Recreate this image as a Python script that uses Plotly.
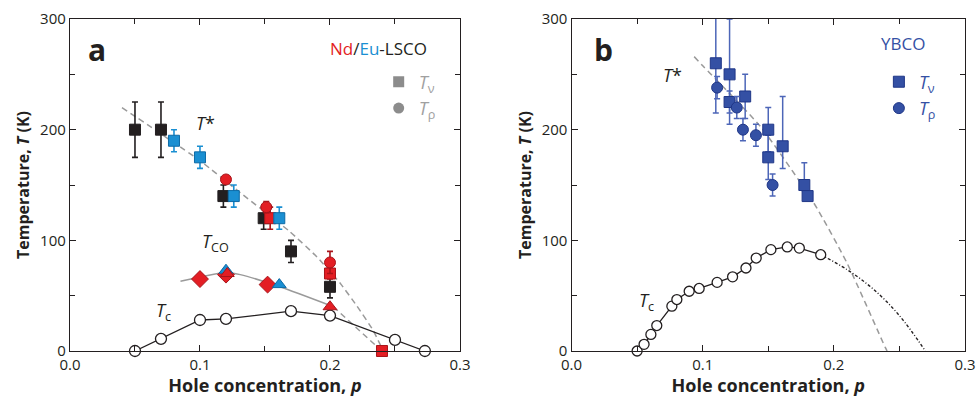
import plotly.graph_objects as go

# ---------------- Panel a : Nd/Eu-LSCO ----------------
a_black_sq_p = [0.05, 0.07, 0.118, 0.149, 0.17, 0.20]
a_black_sq_T = [200, 200, 140, 120, 90, 58]
a_black_sq_err = [25, 25, 10, 10, 10, 10]

a_blue_sq_p = [0.08, 0.10, 0.126, 0.161]
a_blue_sq_T = [190, 175, 140, 120]
a_blue_sq_err = [10, 10, 10, 10]

a_red_sq_p = [0.154, 0.20, 0.24]
a_red_sq_T = [120, 70, 0]
a_red_sq_err = [10, 5, 0]

a_red_ci_p = [0.12, 0.151, 0.20]
a_red_ci_T = [155, 130, 80]
a_red_ci_err = [0, 5, 10]

a_red_dia_p = [0.10, 0.12, 0.152]
a_red_dia_T = [65, 69, 60]

a_red_tri_p = [0.121, 0.20]
a_red_tri_T = [70, 40]

a_blue_tri_p = [0.12, 0.161]
a_blue_tri_T = [73, 60]

a_tc_p = [0.05, 0.07, 0.10, 0.12, 0.17, 0.20, 0.25, 0.273]
a_tc_T = [0, 11, 28, 29, 36, 32, 10, 0]

a_tstar_p = [0.04, 0.10, 0.131, 0.169, 0.19, 0.208, 0.2205, 0.233, 0.241]
a_tstar_T = [220, 172, 143, 108, 85, 61, 41, 19, 0]

a_tco_p = [0.085, 0.12, 0.131, 0.1615, 0.2026]
a_tco_T = [63, 71, 69, 58, 40]
a_tco_ext_p = [0.2026, 0.238]
a_tco_ext_T = [40, 2]

# ---------------- Panel b : YBCO ----------------
b_sq_p = [0.110, 0.1205, 0.1205, 0.1324, 0.150, 0.150, 0.161, 0.1775, 0.180]
b_sq_T = [260, 250, 225, 230, 200, 175, 185, 150, 140]
b_sq_err_plus = [45, 50, 10, 20, 20, 20, 45, 20, 0]
b_sq_err_minus = [45, 45, 10, 20, 20, 20, 20, 5, 0]

b_ci_p = [0.111, 0.126, 0.1307, 0.1406, 0.1533]
b_ci_T = [238, 220, 200, 195, 150]
b_ci_err = [10, 10, 10, 10, 10]

b_tc_p = [0.050, 0.0553, 0.0605, 0.065, 0.0765, 0.0803, 0.0897, 0.0973,
          0.1110, 0.1228, 0.1330, 0.1408, 0.1520, 0.1645, 0.1737, 0.1900]
b_tc_T = [0, 6, 15, 23, 40.5, 46.5, 54, 56.5, 62, 67, 75, 84, 91.6, 94, 93, 87]

b_tc_ext_p = [0.19, 0.21, 0.23, 0.25, 0.2698]
b_tc_ext_T = [87, 73.6, 56, 32, 0]

b_tstar_p = [0.0935, 0.1006, 0.1439, 0.1846, 0.21, 0.2393, 0.2406]
b_tstar_T = [266, 257, 203, 134, 79.6, 3, 0]

RED = "#e31e24"
RED_E = "#a8141a"
BLUE = "#1a8fd2"
BLUE_E = "#0d6aa6"
BLACK = "#231f20"
YB = "#3450a4"
YB_E = "#1f3687"
YB_ERR = "#4d66b8"
GRAY = "#8c8c8c"
FONT = "Open Sans"

fig = go.Figure()


def add(tr):
    fig.add_trace(tr)


# ---- panel a lines
add(go.Scatter(x=a_tstar_p, y=a_tstar_T, mode="lines", xaxis="x", yaxis="y",
               line=dict(color="#9a9a9a", width=1.5, dash="6px,4px", shape="spline", smoothing=0.4),
               showlegend=False, hoverinfo="skip"))
add(go.Scatter(x=a_tco_p, y=a_tco_T, mode="lines", xaxis="x", yaxis="y",
               line=dict(color="#9a9a9a", width=1.5, shape="spline", smoothing=0.6),
               showlegend=False, hoverinfo="skip"))
add(go.Scatter(x=a_tco_ext_p, y=a_tco_ext_T, mode="lines", xaxis="x", yaxis="y",
               line=dict(color="#9a9a9a", width=1.5, dash="6px,4px"),
               showlegend=False, hoverinfo="skip"))
add(go.Scatter(x=a_tc_p, y=a_tc_T, mode="lines+markers", xaxis="x", yaxis="y",
               line=dict(color=BLACK, width=1.3),
               marker=dict(symbol="circle", size=11, color="white",
                           line=dict(color=BLACK, width=1.3)),
               showlegend=False, cliponaxis=False))

# ---- panel a markers
add(go.Scatter(x=a_black_sq_p, y=a_black_sq_T, mode="markers", xaxis="x", yaxis="y",
               marker=dict(symbol="square", size=11, color=BLACK, line=dict(color=BLACK, width=1)),
               error_y=dict(type="data", array=a_black_sq_err, color=BLACK, thickness=1.6, width=3),
               showlegend=False))
add(go.Scatter(x=a_red_sq_p, y=a_red_sq_T, mode="markers", xaxis="x", yaxis="y",
               marker=dict(symbol="square", size=11, color=RED, line=dict(color=RED_E, width=1)),
               error_y=dict(type="data", array=a_red_sq_err, color=RED_E, thickness=1.6, width=3),
               showlegend=False, cliponaxis=False))
add(go.Scatter(x=a_blue_sq_p, y=a_blue_sq_T, mode="markers", xaxis="x", yaxis="y",
               marker=dict(symbol="square", size=11, color=BLUE, line=dict(color=BLUE_E, width=1)),
               error_y=dict(type="data", array=a_blue_sq_err, color=BLUE, thickness=1.6, width=3),
               showlegend=False))
add(go.Scatter(x=a_red_ci_p, y=a_red_ci_T, mode="markers", xaxis="x", yaxis="y",
               marker=dict(symbol="circle", size=11, color=RED, line=dict(color=RED_E, width=1)),
               error_y=dict(type="data", array=a_red_ci_err, color=RED_E, thickness=1.6, width=3),
               showlegend=False))
add(go.Scatter(x=a_red_dia_p, y=a_red_dia_T, mode="markers", xaxis="x", yaxis="y",
               marker=dict(symbol="diamond", size=13, color=RED, line=dict(color=RED_E, width=1)),
               showlegend=False))
add(go.Scatter(x=a_blue_tri_p, y=a_blue_tri_T, mode="markers", xaxis="x", yaxis="y",
               marker=dict(symbol="triangle-up", size=12, color=BLUE, line=dict(color=BLUE_E, width=1)),
               showlegend=False))
add(go.Scatter(x=a_red_tri_p, y=a_red_tri_T, mode="markers", xaxis="x", yaxis="y",
               marker=dict(symbol="triangle-up", size=12, color=RED, line=dict(color=RED_E, width=1)),
               showlegend=False))

# ---- panel a legend entries
add(go.Scatter(x=[None], y=[None], mode="markers", xaxis="x", yaxis="y",
               marker=dict(symbol="square", size=11, color=GRAY),
               name="<i>T</i><sub>ν</sub>", legend="legend"))
add(go.Scatter(x=[None], y=[None], mode="markers", xaxis="x", yaxis="y",
               marker=dict(symbol="circle", size=11, color=GRAY),
               name="<i>T</i><sub>ρ</sub>", legend="legend"))

# ---- panel b lines
add(go.Scatter(x=b_tstar_p, y=b_tstar_T, mode="lines", xaxis="x2", yaxis="y2",
               line=dict(color="#9a9a9a", width=1.5, dash="6px,4px", shape="spline", smoothing=0.6),
               showlegend=False, hoverinfo="skip"))
add(go.Scatter(x=b_tc_ext_p, y=b_tc_ext_T, mode="lines", xaxis="x2", yaxis="y2",
               line=dict(color=BLACK, width=1.4, dash="3px,2px,1px,2px", shape="spline"),
               showlegend=False, hoverinfo="skip"))
add(go.Scatter(x=b_tc_p, y=b_tc_T, mode="lines+markers", xaxis="x2", yaxis="y2",
               line=dict(color=BLACK, width=1.3),
               marker=dict(symbol="circle", size=10, color="white",
                           line=dict(color=BLACK, width=1.3)),
               showlegend=False, cliponaxis=False))

# ---- panel b markers
add(go.Scatter(x=b_sq_p, y=b_sq_T, mode="markers", xaxis="x2", yaxis="y2",
               marker=dict(symbol="square", size=11, color=YB, line=dict(color=YB_E, width=1)),
               error_y=dict(type="data", symmetric=False, array=b_sq_err_plus,
                            arrayminus=b_sq_err_minus, color=YB_ERR, thickness=1.5, width=3),
               showlegend=False))
add(go.Scatter(x=b_ci_p, y=b_ci_T, mode="markers", xaxis="x2", yaxis="y2",
               marker=dict(symbol="circle", size=11, color=YB, line=dict(color=YB_E, width=1)),
               error_y=dict(type="data", array=b_ci_err, color=YB_ERR, thickness=1.5, width=3),
               showlegend=False))

add(go.Scatter(x=[None], y=[None], mode="markers", xaxis="x2", yaxis="y2",
               marker=dict(symbol="square", size=11, color=YB, line=dict(color=YB_E, width=1)),
               name="<i>T</i><sub>ν</sub>", legend="legend2"))
add(go.Scatter(x=[None], y=[None], mode="markers", xaxis="x2", yaxis="y2",
               marker=dict(symbol="circle", size=11, color=YB, line=dict(color=YB_E, width=1)),
               name="<i>T</i><sub>ρ</sub>", legend="legend2"))

axis_common = dict(showline=True, linecolor=BLACK, linewidth=1.3, mirror="ticks",
                   ticks="inside", ticklen=6, tickwidth=1.3, tickcolor=BLACK,
                   showgrid=False, zeroline=False, automargin=False,
                   tickfont=dict(family=FONT, size=15, color=BLACK))

xa = dict(axis_common, range=[0, 0.3], dtick=0.1, tickformat=".1f",
          minor=dict(ticks="inside", dtick=0.05, ticklen=5, tickcolor=BLACK, tickwidth=1.3),
          title=dict(text="<b>Hole concentration, <i>p</i></b>",
                     font=dict(family=FONT, size=18, color=BLACK), standoff=0))
ya = dict(axis_common, range=[0, 300], dtick=100,
          minor=dict(ticks="inside", dtick=50, ticklen=5, tickcolor=BLACK, tickwidth=1.3),
          title=dict(text="<b>Temperature, <i>T</i> (K)</b>",
                     font=dict(family=FONT, size=16, color=BLACK), standoff=6))

fig.update_layout(
    width=976, height=397,
    margin=dict(l=0, r=0, t=0, b=0, autoexpand=False),
    paper_bgcolor="white", plot_bgcolor="white",
    font=dict(family=FONT, color=BLACK),
    xaxis=dict(xa, domain=[0.0717, 0.4713], anchor="y"),
    yaxis=dict(ya, domain=[0.1159, 0.9521], anchor="x"),
    xaxis2=dict(xa, domain=[0.5856, 0.9887], anchor="y2"),
    yaxis2=dict(ya, domain=[0.1159, 0.9521], anchor="x2"),
    legend=dict(x=0.388, y=0.84, xanchor="left", yanchor="top",
                font=dict(family=FONT, size=18, color="#a0a0a0"),
                bgcolor="rgba(0,0,0,0)", tracegroupgap=0, itemwidth=30),
    legend2=dict(x=0.9005, y=0.84, xanchor="left", yanchor="top",
                 font=dict(family=FONT, size=18, color=YB),
                 bgcolor="rgba(0,0,0,0)", tracegroupgap=0, itemwidth=30),
    showlegend=True,
)

ann = [
    dict(text="<b>a</b>", x=0.0208, y=272, xref="x", yref="y", size=30, color=BLACK),
    dict(text="<b>b</b>", x=0.024, y=272, xref="x2", yref="y2", size=30, color=BLACK),
    dict(text=f"<span style='color:{RED}'>Nd</span>/<span style='color:{BLUE}'>Eu</span>-LSCO",
         x=0.2765, y=273, xref="x", yref="y", size=17, color=BLACK, xanchor="right"),
    dict(text="YBCO", x=0.253, y=278, xref="x2", yref="y2", size=17, color=YB),
    dict(text="<i>T</i>*", x=0.104, y=206, xref="x", yref="y", size=18, color=BLACK),
    dict(text="<i>T</i><sub>CO</sub>", x=0.112, y=98, xref="x", yref="y", size=18, color=BLACK),
    dict(text="<i>T</i><sub>c</sub>", x=0.072, y=36, xref="x", yref="y", size=18, color=BLACK),
    dict(text="<i>T</i>*", x=0.0767, y=249, xref="x2", yref="y2", size=18, color=BLACK),
    dict(text="<i>T</i><sub>c</sub>", x=0.057, y=45, xref="x2", yref="y2", size=18, color=BLACK),
]
for a in ann:
    fig.add_annotation(text=a["text"], x=a["x"], y=a["y"], xref=a["xref"], yref=a["yref"],
                       showarrow=False, xanchor=a.get("xanchor", "center"),
                       font=dict(family=FONT, size=a["size"], color=a["color"]))

fig.write_html("out.html")
